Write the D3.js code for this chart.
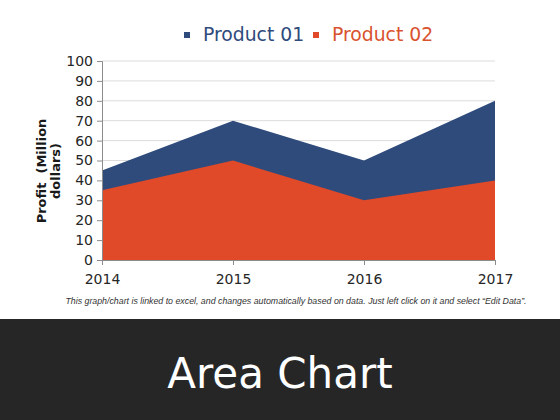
<!DOCTYPE html>
<html>
<head>
<meta charset="utf-8">
<script src="https://cdn.jsdelivr.net/npm/d3@7"></script>
<style>
  body { margin: 0; background: #fff; }
  svg { display: block; }
</style>
</head>
<body>
<div id="chart"></div>
<script>
var years = [2014, 2015, 2016, 2017];
var product01 = [45, 70, 50, 80];
var product02 = [35, 50, 30, 40];
var seriesNames = ["Product 01", "Product 02"];
var yTicks = [0, 10, 20, 30, 40, 50, 60, 70, 80, 90, 100];

var svgWidth = 560;
var svgHeight = 420;

var margin = { top: 61, right: 65, bottom: 160, left: 102 };
var width = svgWidth - margin.left - margin.right;
var height = svgHeight - margin.top - margin.bottom;

var colors = ["#2f4b7c", "#e04a28"];
var legendColors = ["#2f4b7c", "#d9532f"];

var svg = d3.select("#chart")
  .append("svg")
  .attr("width", svgWidth)
  .attr("height", svgHeight);

var chart = svg.append("g")
  .attr("transform", `translate(${margin.left}, ${margin.top})`);

var x = d3.scalePoint()
  .domain(years)
  .range([0, width]);

var y = d3.scaleLinear()
  .domain([0, 100])
  .range([height, 0]);

// gridlines
chart.append("g")
  .selectAll("line")
  .data(yTicks.slice(1))
  .enter()
  .append("line")
  .attr("x1", 0)
  .attr("x2", width)
  .attr("y1", d => y(d))
  .attr("y2", d => y(d))
  .attr("stroke", "#dcdcdc")
  .attr("stroke-width", 1);

var area = d3.area()
  .x((d, i) => x(years[i]))
  .y0(y(0))
  .y1(d => y(d));

[product01, product02].forEach(function(vals, i) {
  chart.append("path")
    .datum(vals)
    .attr("d", area)
    .attr("fill", colors[i]);
});

var leftAxis = d3.axisLeft(y).tickValues(yTicks).tickSize(5).tickPadding(4);
var bottomAxis = d3.axisBottom(x).tickSize(5).tickPadding(6);

var gy = chart.append("g").call(leftAxis);
var gx = chart.append("g")
  .attr("transform", `translate(0, ${height})`)
  .call(bottomAxis);

[gy, gx].forEach(function(g) {
  g.select(".domain").attr("stroke", "#8c8c8c");
  g.selectAll(".tick line").attr("stroke", "#8c8c8c");
  g.selectAll("text")
    .attr("fill", "#262626")
    .style("font-family", "Verdana, 'DejaVu Sans', sans-serif")
    .style("font-size", "14px");
});
gx.selectAll("text").attr("dy", "0.9em");

// y axis title
var ytitle = chart.append("text")
  .attr("transform", "rotate(-90)")
  .attr("text-anchor", "middle")
  .style("font-family", "Verdana, 'DejaVu Sans', sans-serif")
  .style("font-size", "13px")
  .style("font-weight", "bold")
  .attr("fill", "#1a1a1a");
ytitle.append("tspan")
  .attr("x", -110)
  .attr("y", -56)
  .style("white-space", "pre")
  .text("Profit\u00a0 (Million");
ytitle.append("tspan")
  .attr("x", -110)
  .attr("dy", "1.1em")
  .text("dollars)");

// legend
var legendX = [184, 313];
var legend = svg.append("g");
seriesNames.forEach(function(name, i) {
  legend.append("rect")
    .attr("x", legendX[i])
    .attr("y", 32)
    .attr("width", 6)
    .attr("height", 6)
    .attr("fill", colors[i]);
  legend.append("text")
    .attr("x", legendX[i] + 19)
    .attr("y", 41)
    .style("font-family", "Verdana, 'DejaVu Sans', sans-serif")
    .style("font-size", "18.8px")
    .attr("fill", legendColors[i])
    .text(name);
});

// footnote
svg.append("text")
  .attr("x", 296)
  .attr("y", 304)
  .attr("text-anchor", "middle")
  .style("font-family", "'Liberation Sans', Arial, sans-serif")
  .style("font-size", "8.8px")
  .style("font-style", "italic")
  .attr("fill", "#333")
  .text("This graph/chart is linked to excel, and changes automatically based on data. Just left click on it and select \u201cEdit Data\u201d.");

// bottom band
svg.append("rect")
  .attr("x", 0)
  .attr("y", 319)
  .attr("width", svgWidth)
  .attr("height", svgHeight - 319)
  .attr("fill", "#262626");

svg.append("text")
  .attr("x", 280)
  .attr("y", 388)
  .attr("text-anchor", "middle")
  .style("font-family", "Verdana, 'DejaVu Sans', sans-serif")
  .style("font-size", "42px")
  .attr("fill", "#fff")
  .text("Area Chart");
</script>
</body>
</html>
